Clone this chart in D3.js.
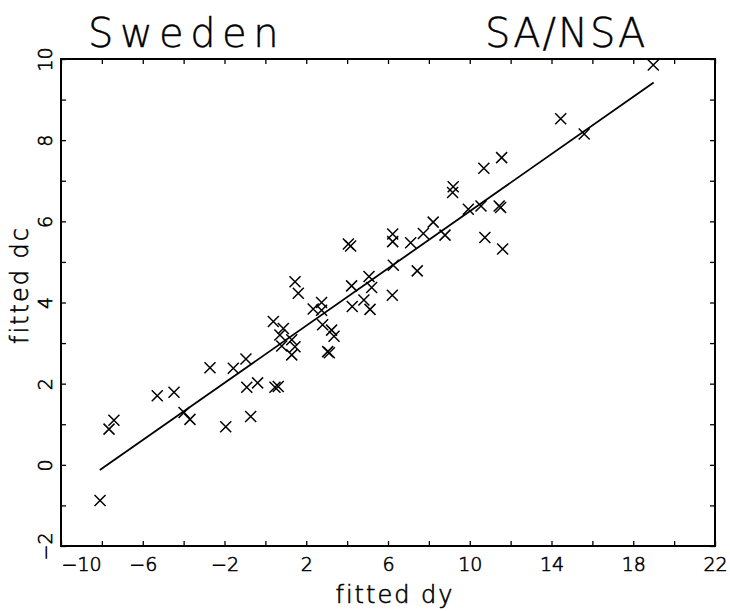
<!DOCTYPE html>
<html>
<head>
<meta charset="utf-8">
<script src="https://cdn.jsdelivr.net/npm/d3@7"></script>
<style>
  body { margin: 0; background: #fff; }
  text { font-family: "DejaVu Sans", sans-serif; font-weight: 200; fill: #000; stroke: #000; stroke-width: 0.6px; }
</style>
</head>
<body>
<div id="chart"></div>
<script>
const width = 730;
const height = 611;

// fitted dy / fitted dc pairs
const dyVals = [
  -8.09, -7.65, -7.41, -5.29, -4.47, -3.98, -3.69, -2.71, -1.94, -1.57,
  -0.95, -0.91, -0.38, -0.72, 0.39, 0.47, 0.63, 0.88, 0.71, 0.80,
  1.29, 1.45, 1.29, 1.45, 1.61, 2.34, 2.75, 2.75, 2.80, 3.24,
  3.36, 3.05, 3.13, 4.06, 4.17, 4.22, 4.25, 4.82, 5.12, 5.07,
  5.20, 6.21, 6.26, 7.43, 6.23, 6.23, 7.11, 7.73, 8.79, 8.21,
  9.19, 9.16, 9.93, 10.55, 11.44, 11.51, 10.69, 11.56, 10.74, 11.61,
  14.45, 15.60, 18.98
];
const dcVals = [
  -0.88, 0.88, 1.10, 1.70, 1.79, 1.29, 1.12, 2.39, 0.94, 2.38,
  2.61, 1.91, 2.02, 1.19, 3.53, 1.91, 1.93, 3.36, 3.20, 2.93,
  3.08, 2.91, 2.71, 4.51, 4.23, 3.84, 4.00, 3.81, 3.45, 3.32,
  3.17, 2.79, 2.76, 5.44, 5.39, 4.41, 3.90, 4.06, 3.83, 4.64,
  4.37, 4.18, 4.92, 4.78, 5.69, 5.50, 5.47, 5.70, 5.66, 5.98,
  6.85, 6.71, 6.30, 6.38, 6.38, 6.34, 7.31, 7.57, 5.60, 5.32,
  8.53, 8.15, 9.85
];

// regression line end points
const fitX = [-8.1, 19.0];
const fitY = [-0.13, 9.42];

const xTicks = d3.range(-10, 23, 2);
const xLabels = [-10, -6, -2, 2, 6, 10, 14, 18, 22];
const yTicks = d3.range(-2, 11, 1);
const yLabels = [-2, 0, 2, 4, 6, 8, 10];

const x = d3.scaleLinear().domain([-10, 22]).range([61, 715]);
const y = d3.scaleLinear().domain([-2, 10]).range([546, 59]);

const svg = d3.select("#chart")
  .append("svg")
  .attr("width", width)
  .attr("height", height);

const fmt = d => String(d).replace("-", "\u2212");

// bottom axis with labels
const gx = svg.append("g")
  .attr("transform", `translate(0,${y(-2)})`)
  .call(d3.axisBottom(x)
    .tickValues(xTicks)
    .tickSizeInner(-5)
    .tickSizeOuter(0)
    .tickPadding(12)
    .tickFormat(d => xLabels.includes(d) ? fmt(d) : ""));
gx.selectAll("text").style("font-size", "19px");
gx.selectAll("text").filter(d => d === -10).attr("text-anchor", "start");

svg.append("g")
  .attr("transform", `translate(0,${y(10)})`)
  .call(d3.axisTop(x)
    .tickValues(xTicks)
    .tickSizeInner(-5)
    .tickSizeOuter(0)
    .tickFormat(""));

const gy = svg.append("g")
  .attr("transform", `translate(${x(-10)},0)`)
  .call(d3.axisLeft(y)
    .tickValues(yTicks)
    .tickSizeInner(-5)
    .tickSizeOuter(0)
    .tickFormat(d => yLabels.includes(d) ? fmt(d) : ""));
gy.selectAll("text")
  .style("font-size", "19px")
  .attr("x", null)
  .attr("dy", null)
  .attr("text-anchor", "middle")
  .attr("transform", "translate(-9,0) rotate(-90)");

svg.append("g")
  .attr("transform", `translate(${x(22)},0)`)
  .call(d3.axisRight(y)
    .tickValues(yTicks)
    .tickSizeInner(-5)
    .tickSizeOuter(0)
    .tickFormat(""));

svg.selectAll(".domain").remove();
svg.selectAll(".tick line").attr("stroke", "#000").attr("stroke-width", 1.3);
svg.selectAll(".tick text").attr("fill", "#000");

// frame
svg.append("rect")
  .attr("x", x(-10))
  .attr("y", y(10))
  .attr("width", x(22) - x(-10))
  .attr("height", y(-2) - y(10))
  .attr("fill", "none")
  .attr("stroke", "#000")
  .attr("stroke-width", 2);

// fitted line
svg.append("line")
  .attr("x1", x(fitX[0])).attr("y1", y(fitY[0]))
  .attr("x2", x(fitX[1])).attr("y2", y(fitY[1]))
  .attr("stroke", "#000")
  .attr("stroke-width", 1.8);

// x markers
const s = 5.5;
const pts = dyVals.map((d, i) => [d, dcVals[i]]);
svg.append("g")
  .selectAll("path")
  .data(pts)
  .enter()
  .append("path")
  .attr("d", d => {
    const cx = x(d[0]), cy = y(d[1]);
    return `M${cx - s},${cy - s}L${cx + s},${cy + s}M${cx - s},${cy + s}L${cx + s},${cy - s}`;
  })
  .attr("stroke", "#000")
  .attr("stroke-width", 1.5)
  .attr("fill", "none");

// titles
svg.append("text")
  .attr("x", 88).attr("y", 47)
  .style("font-size", "40px")
  .style("letter-spacing", "6.5px")
  .style("stroke-width", "0.4px")
  .text("Sweden");

svg.append("text")
  .attr("x", 485).attr("y", 47)
  .style("font-size", "40px")
  .style("letter-spacing", "2px")
  .style("stroke-width", "0.4px")
  .text("SA/NSA");

svg.append("text")
  .attr("x", 395).attr("y", 603)
  .attr("text-anchor", "middle")
  .style("font-size", "24px")
  .style("letter-spacing", "2px")
  .text("fitted dy");

svg.append("text")
  .attr("transform", "translate(28,285) rotate(-90)")
  .attr("text-anchor", "middle")
  .style("font-size", "24px")
  .style("letter-spacing", "2px")
  .text("fitted dc");
</script>
</body>
</html>
